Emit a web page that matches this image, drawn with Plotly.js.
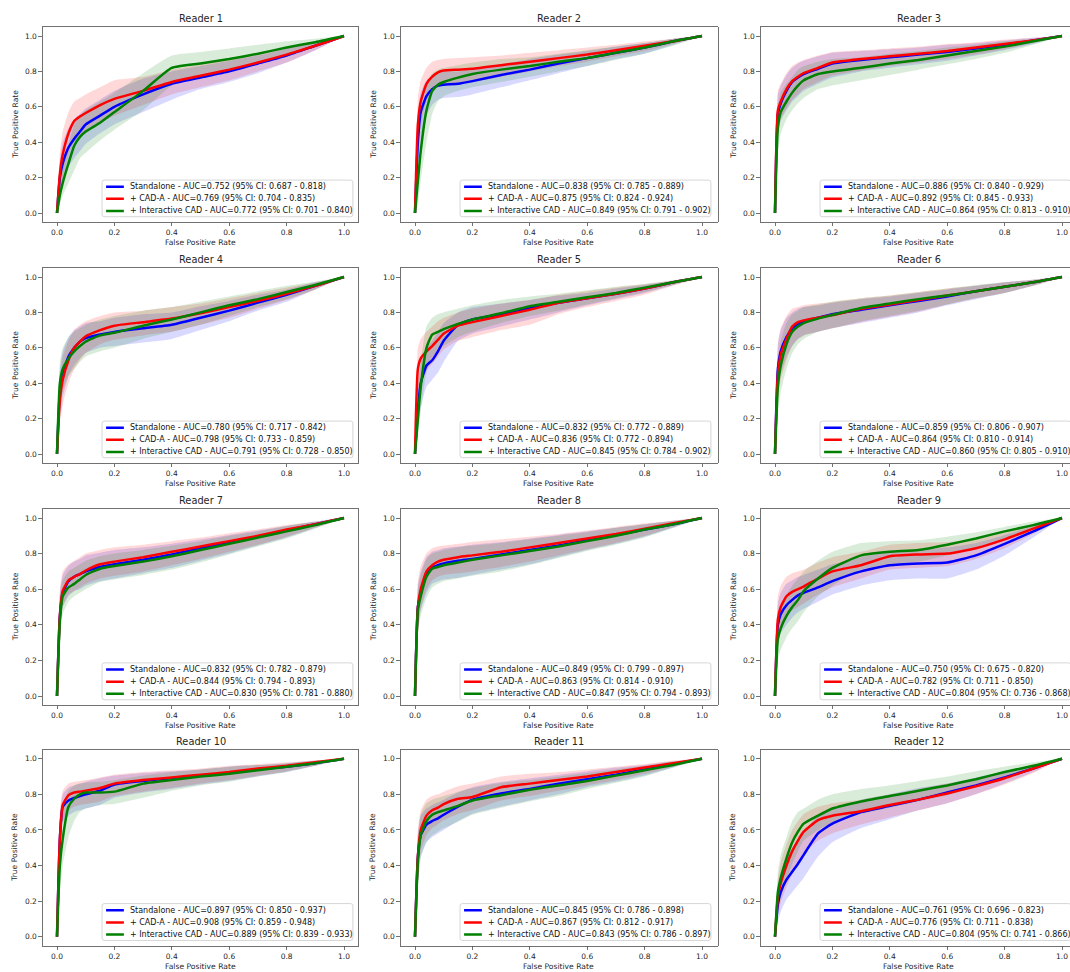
<!DOCTYPE html>
<html>
<head>
<meta charset="utf-8">
<script src="https://cdn.plot.ly/plotly-3.0.1.min.js"></script>
<style>
  html, body { margin: 0; padding: 0; background: #ffffff; }
  #chart { width: 1070px; height: 972px; }
</style>
</head>
<body>
<div id="chart"></div>
<script>
// Shared false-positive-rate grid for every mean ROC curve and its 95% band
const FPR = [0, 0.01, 0.02, 0.04, 0.06, 0.08, 0.1, 0.15, 0.2, 0.3, 0.4, 0.5, 0.6, 0.7, 0.8, 0.9, 1];

const readers = ['Reader 1', 'Reader 2', 'Reader 3', 'Reader 4', 'Reader 5', 'Reader 6',
                 'Reader 7', 'Reader 8', 'Reader 9', 'Reader 10', 'Reader 11', 'Reader 12'];

const seriesNames = ['Standalone', '+ CAD-A', '+ Interactive CAD'];

// AUC and 95% CI per reader
const aucStandalone = [0.752, 0.838, 0.886, 0.780, 0.832, 0.859, 0.832, 0.849, 0.750, 0.897, 0.845, 0.761];
const ciStandalone = [[0.687, 0.818], [0.785, 0.889], [0.840, 0.929], [0.717, 0.842], [0.772, 0.889], [0.806, 0.907],
                      [0.782, 0.879], [0.799, 0.897], [0.675, 0.820], [0.850, 0.937], [0.786, 0.898], [0.696, 0.823]];
const aucCadA = [0.769, 0.875, 0.892, 0.798, 0.836, 0.864, 0.844, 0.863, 0.782, 0.908, 0.867, 0.776];
const ciCadA = [[0.704, 0.835], [0.824, 0.924], [0.845, 0.933], [0.733, 0.859], [0.772, 0.894], [0.810, 0.914],
                [0.794, 0.893], [0.814, 0.910], [0.711, 0.850], [0.859, 0.948], [0.812, 0.917], [0.711, 0.838]];
const aucInteractive = [0.772, 0.849, 0.864, 0.791, 0.845, 0.860, 0.830, 0.847, 0.804, 0.889, 0.843, 0.804];
const ciInteractive = [[0.701, 0.840], [0.791, 0.902], [0.813, 0.910], [0.728, 0.850], [0.784, 0.902], [0.805, 0.910],
                       [0.781, 0.880], [0.794, 0.893], [0.736, 0.868], [0.839, 0.933], [0.786, 0.897], [0.741, 0.866]];

// Standalone: mean TPR, band lower, band upper (one row per reader)
const standaloneTpr = [
  [0, .20, .28, .37, .42, .46, .50, .55, .60, .67, .73, .765, .80, .845, .89, .945, 1],
  [0, .40, .57, .66, .70, .72, .725, .73, .745, .78, .81, .845, .875, .905, .935, .97, 1],
  [0, .56, .62, .69, .74, .765, .785, .815, .845, .865, .88, .895, .91, .93, .95, .975, 1],
  [0, .35, .45, .55, .60, .635, .655, .675, .69, .71, .73, .77, .81, .855, .90, .95, 1],
  [0, .25, .40, .50, .53, .58, .64, .73, .76, .79, .825, .855, .88, .905, .935, .97, 1],
  [0, .48, .58, .66, .71, .735, .75, .77, .79, .815, .84, .865, .89, .92, .945, .97, 1],
  [0, .45, .58, .645, .67, .685, .70, .725, .74, .765, .795, .83, .86, .895, .93, .965, 1],
  [0, .50, .58, .69, .72, .735, .745, .76, .77, .795, .82, .845, .875, .905, .935, .965, 1],
  [0, .40, .46, .51, .54, .565, .58, .61, .645, .70, .735, .745, .75, .79, .855, .925, 1],
  [0, .55, .73, .765, .78, .79, .80, .82, .855, .875, .89, .905, .92, .94, .955, .975, 1],
  [0, .45, .57, .63, .65, .665, .685, .73, .77, .805, .83, .86, .885, .91, .94, .97, 1],
  [0, .18, .25, .32, .365, .41, .46, .58, .635, .70, .735, .77, .81, .85, .895, .945, 1]
];
const standaloneLo = [
  [0, .10, .17, .26, .31, .35, .39, .45, .50, .57, .64, .70, .74, .79, .85, .92, 1],
  [0, .25, .42, .55, .61, .64, .65, .655, .67, .71, .75, .79, .83, .87, .90, .95, 1],
  [0, .45, .52, .58, .63, .66, .69, .73, .765, .80, .82, .84, .86, .89, .92, .955, 1],
  [0, .22, .32, .44, .50, .54, .57, .60, .61, .63, .65, .70, .75, .81, .86, .93, 1],
  [0, .12, .26, .38, .42, .46, .52, .64, .68, .72, .76, .80, .84, .875, .91, .955, 1],
  [0, .35, .45, .55, .61, .65, .67, .69, .71, .74, .77, .80, .84, .875, .91, .95, 1],
  [0, .35, .50, .56, .59, .60, .62, .645, .66, .69, .72, .76, .80, .845, .89, .945, 1],
  [0, .38, .48, .58, .63, .645, .655, .665, .68, .71, .74, .78, .82, .855, .895, .945, 1],
  [0, .28, .35, .40, .44, .47, .49, .53, .57, .62, .65, .66, .66, .71, .79, .89, 1],
  [0, .42, .64, .68, .70, .71, .72, .74, .78, .81, .83, .855, .875, .90, .925, .96, 1],
  [0, .30, .45, .53, .56, .58, .60, .65, .69, .73, .765, .80, .84, .87, .905, .95, 1],
  [0, .08, .14, .21, .25, .29, .33, .45, .53, .61, .66, .71, .75, .80, .86, .925, 1]
];
const standaloneHi = [
  [0, .30, .40, .48, .53, .56, .59, .64, .69, .76, .80, .83, .86, .89, .93, .97, 1],
  [0, .55, .68, .75, .78, .79, .80, .80, .815, .84, .87, .895, .915, .94, .96, .985, 1],
  [0, .67, .72, .78, .82, .845, .86, .885, .905, .915, .925, .935, .95, .96, .975, .99, 1],
  [0, .48, .58, .66, .70, .72, .74, .75, .77, .79, .80, .835, .865, .90, .93, .97, 1],
  [0, .38, .52, .60, .64, .69, .74, .80, .83, .85, .87, .895, .91, .935, .955, .98, 1],
  [0, .62, .70, .77, .80, .82, .83, .84, .855, .875, .89, .91, .93, .95, .97, .985, 1],
  [0, .58, .68, .73, .755, .77, .79, .805, .82, .835, .855, .88, .905, .93, .955, .98, 1],
  [0, .62, .70, .78, .81, .82, .83, .84, .85, .865, .885, .905, .925, .945, .965, .985, 1],
  [0, .52, .58, .63, .65, .67, .68, .71, .74, .78, .81, .82, .835, .86, .905, .955, 1],
  [0, .68, .80, .84, .85, .86, .87, .89, .905, .92, .93, .94, .955, .965, .975, .99, 1],
  [0, .58, .68, .72, .74, .755, .77, .81, .84, .87, .89, .91, .93, .95, .965, .985, 1],
  [0, .28, .36, .45, .50, .55, .59, .68, .72, .77, .80, .835, .86, .895, .93, .965, 1]
];

// + CAD-A
const cadATpr = [
  [0, .22, .33, .45, .52, .545, .565, .61, .645, .69, .74, .775, .81, .85, .895, .945, 1],
  [0, .50, .63, .73, .77, .795, .805, .81, .815, .835, .855, .875, .895, .92, .945, .97, 1],
  [0, .58, .63, .70, .745, .77, .79, .82, .85, .87, .885, .90, .915, .935, .955, .975, 1],
  [0, .30, .42, .53, .60, .635, .665, .70, .725, .745, .765, .795, .83, .865, .905, .95, 1],
  [0, .48, .54, .58, .61, .645, .68, .725, .745, .78, .815, .855, .88, .905, .935, .97, 1],
  [0, .45, .56, .65, .72, .745, .755, .77, .785, .82, .845, .87, .895, .92, .945, .97, 1],
  [0, .45, .59, .65, .67, .685, .705, .74, .755, .78, .81, .84, .87, .90, .935, .965, 1],
  [0, .50, .60, .70, .735, .755, .765, .78, .79, .81, .835, .86, .885, .91, .94, .97, 1],
  [0, .43, .50, .56, .585, .60, .615, .66, .70, .735, .785, .795, .80, .83, .88, .94, 1],
  [0, .55, .74, .795, .81, .815, .82, .835, .86, .88, .895, .91, .925, .945, .96, .98, 1],
  [0, .45, .60, .68, .71, .725, .745, .775, .785, .84, .86, .88, .90, .925, .95, .975, 1],
  [0, .22, .30, .40, .48, .54, .59, .655, .68, .705, .74, .77, .805, .845, .89, .945, 1]
];
const cadALo = [
  [0, .10, .20, .32, .40, .43, .45, .51, .55, .61, .67, .71, .75, .80, .85, .92, 1],
  [0, .35, .50, .63, .68, .71, .72, .73, .74, .77, .80, .83, .855, .885, .915, .955, 1],
  [0, .47, .53, .59, .64, .67, .70, .74, .775, .805, .83, .85, .87, .895, .925, .96, 1],
  [0, .18, .28, .40, .48, .53, .57, .62, .645, .67, .69, .73, .77, .82, .87, .93, 1],
  [0, .30, .40, .47, .51, .55, .59, .64, .66, .70, .73, .79, .83, .865, .90, .95, 1],
  [0, .30, .42, .53, .61, .65, .67, .69, .71, .745, .775, .805, .845, .88, .91, .95, 1],
  [0, .35, .50, .57, .59, .61, .63, .66, .675, .70, .735, .77, .81, .85, .895, .945, 1],
  [0, .38, .49, .60, .65, .67, .68, .69, .70, .725, .755, .79, .825, .86, .90, .95, 1],
  [0, .30, .38, .45, .48, .50, .52, .57, .61, .66, .71, .72, .73, .77, .83, .91, 1],
  [0, .42, .65, .71, .73, .74, .745, .76, .79, .815, .835, .86, .88, .905, .93, .96, 1],
  [0, .32, .48, .57, .61, .63, .655, .69, .71, .765, .79, .82, .85, .88, .915, .955, 1],
  [0, .12, .19, .28, .35, .41, .46, .54, .58, .63, .67, .71, .75, .80, .855, .92, 1]
];
const cadAHi = [
  [0, .34, .46, .57, .63, .65, .67, .71, .75, .77, .81, .84, .87, .90, .93, .97, 1],
  [0, .65, .75, .82, .855, .865, .87, .875, .88, .89, .905, .92, .935, .95, .97, .985, 1],
  [0, .69, .73, .79, .83, .85, .865, .89, .91, .92, .93, .94, .955, .965, .98, .99, 1],
  [0, .42, .55, .64, .70, .73, .75, .78, .80, .81, .83, .85, .88, .91, .94, .97, 1],
  [0, .60, .65, .69, .72, .75, .77, .80, .82, .85, .87, .90, .92, .94, .96, .98, 1],
  [0, .62, .71, .78, .82, .83, .84, .85, .86, .88, .895, .915, .935, .95, .97, .985, 1],
  [0, .60, .70, .74, .76, .78, .80, .82, .835, .85, .87, .89, .915, .935, .96, .98, 1],
  [0, .64, .73, .80, .83, .84, .845, .855, .865, .88, .895, .91, .93, .95, .97, .985, 1],
  [0, .56, .62, .67, .69, .70, .71, .75, .78, .81, .85, .86, .865, .885, .92, .965, 1],
  [0, .70, .82, .86, .87, .875, .88, .895, .91, .925, .935, .945, .96, .97, .98, .99, 1],
  [0, .60, .71, .77, .79, .80, .815, .845, .86, .90, .915, .925, .94, .955, .97, .99, 1],
  [0, .32, .42, .52, .60, .65, .69, .73, .75, .77, .80, .83, .86, .89, .925, .965, 1]
];

// + Interactive CAD
const interTpr = [
  [0, .10, .17, .28, .38, .43, .46, .51, .57, .69, .82, .845, .87, .90, .935, .965, 1],
  [0, .18, .35, .58, .69, .725, .74, .765, .785, .81, .83, .855, .875, .905, .935, .97, 1],
  [0, .48, .57, .63, .68, .72, .75, .785, .80, .82, .845, .865, .89, .915, .94, .97, 1],
  [0, .40, .48, .54, .58, .61, .635, .67, .685, .725, .76, .80, .84, .875, .915, .955, 1],
  [0, .20, .38, .60, .675, .69, .705, .735, .76, .795, .835, .86, .885, .91, .94, .97, 1],
  [0, .38, .50, .62, .69, .72, .74, .765, .785, .825, .85, .875, .895, .92, .945, .97, 1],
  [0, .42, .56, .61, .63, .655, .68, .715, .73, .755, .785, .82, .855, .89, .925, .96, 1],
  [0, .48, .56, .67, .715, .725, .735, .75, .765, .79, .815, .84, .87, .90, .935, .965, 1],
  [0, .32, .38, .45, .50, .54, .59, .66, .72, .79, .81, .82, .85, .885, .925, .96, 1],
  [0, .40, .55, .73, .775, .80, .81, .81, .815, .86, .88, .90, .915, .935, .955, .975, 1],
  [0, .42, .57, .65, .685, .70, .71, .735, .765, .795, .825, .85, .875, .905, .935, .965, 1],
  [0, .25, .33, .44, .53, .59, .635, .68, .72, .76, .79, .82, .85, .885, .925, .96, 1]
];
const interLo = [
  [0, .05, .10, .17, .24, .31, .34, .41, .47, .58, .72, .78, .81, .85, .89, .94, 1],
  [0, .05, .18, .40, .56, .63, .66, .69, .71, .74, .77, .80, .83, .865, .90, .945, 1],
  [0, .35, .45, .53, .58, .62, .65, .70, .72, .75, .78, .81, .84, .87, .905, .95, 1],
  [0, .28, .36, .44, .48, .52, .55, .58, .60, .65, .69, .73, .78, .83, .875, .93, 1],
  [0, .10, .24, .46, .55, .58, .61, .66, .69, .74, .78, .81, .845, .88, .915, .955, 1],
  [0, .22, .35, .48, .57, .62, .65, .69, .71, .75, .78, .81, .845, .88, .91, .95, 1],
  [0, .32, .46, .53, .56, .58, .60, .64, .655, .68, .71, .75, .795, .84, .885, .94, 1],
  [0, .35, .45, .55, .61, .63, .645, .66, .675, .70, .735, .775, .815, .85, .89, .945, 1],
  [0, .20, .26, .33, .38, .42, .47, .56, .62, .71, .74, .755, .79, .835, .885, .94, 1],
  [0, .25, .40, .56, .65, .70, .72, .74, .745, .78, .82, .85, .87, .90, .925, .96, 1],
  [0, .28, .44, .53, .57, .59, .61, .645, .685, .725, .76, .79, .83, .865, .90, .95, 1],
  [0, .15, .22, .32, .41, .48, .54, .60, .64, .69, .725, .76, .795, .84, .89, .945, 1]
];
const interHi = [
  [0, .18, .26, .39, .50, .55, .58, .63, .68, .79, .89, .91, .93, .95, .97, .985, 1],
  [0, .30, .50, .72, .79, .81, .82, .835, .85, .87, .88, .90, .92, .94, .96, .985, 1],
  [0, .60, .68, .73, .77, .81, .83, .855, .87, .88, .90, .915, .935, .95, .97, .985, 1],
  [0, .52, .60, .66, .69, .71, .73, .76, .78, .81, .83, .86, .89, .92, .95, .975, 1],
  [0, .32, .52, .72, .77, .79, .80, .82, .84, .87, .89, .905, .925, .945, .96, .98, 1],
  [0, .52, .64, .74, .79, .81, .83, .845, .86, .88, .895, .915, .935, .955, .97, .985, 1],
  [0, .55, .65, .70, .72, .74, .76, .785, .80, .82, .845, .87, .90, .925, .955, .98, 1],
  [0, .60, .68, .77, .80, .81, .82, .835, .845, .86, .88, .90, .92, .945, .965, .985, 1],
  [0, .44, .50, .57, .62, .66, .70, .76, .81, .86, .87, .875, .895, .92, .95, .98, 1],
  [0, .55, .70, .82, .85, .86, .865, .87, .88, .905, .925, .94, .955, .965, .975, .99, 1],
  [0, .56, .69, .75, .77, .78, .79, .815, .835, .865, .88, .90, .92, .94, .96, .985, 1],
  [0, .36, .46, .56, .65, .70, .72, .77, .80, .83, .85, .875, .90, .93, .955, .98, 1]
];

const seriesColors = ['#0000ff', '#ff0000', '#008000'];
const bandColors = ['rgba(0,0,255,0.15)', 'rgba(255,0,0,0.15)', 'rgba(0,128,0,0.15)'];

const tprSets = [standaloneTpr, cadATpr, interTpr];
const loSets = [standaloneLo, cadALo, interLo];
const hiSets = [standaloneHi, cadAHi, interHi];
const aucSets = [aucStandalone, aucCadA, aucInteractive];
const ciSets = [ciStandalone, ciCadA, ciInteractive];

// Grid geometry in pixels (4 rows x 3 columns)
const W = 1070, H = 972;
const colLeft = [42.65, 400.65, 760.65];
const colRight = [358.35, 717.65, 1070];
const rowTop = [27.15, 268.15, 509.1, 749.8];
const rowBottom = [221.85, 462.85, 704.9, 945.6];
const pxPerUnit = (358.35 - 42.65) / 1.1;

const FONT = 'DejaVu Sans, Liberation Sans, sans-serif';
const TXT = '#262626';
const SPINE = '#4d4d4d';

const data = [];
const layout = {
  width: W, height: H,
  margin: {l: 0, r: 0, t: 0, b: 0},
  paper_bgcolor: '#ffffff',
  plot_bgcolor: '#ffffff',
  showlegend: false,
  font: {family: FONT, size: 8, color: TXT},
  shapes: [],
  annotations: []
};

function roundedBox(x0, x1, y0, y1, rx, ry) {
  return `M ${x0 + rx},${y0} L ${x1 - rx},${y0} Q ${x1},${y0} ${x1},${y0 + ry} ` +
         `L ${x1},${y1 - ry} Q ${x1},${y1} ${x1 - rx},${y1} L ${x0 + rx},${y1} ` +
         `Q ${x0},${y1} ${x0},${y1 - ry} L ${x0},${y0 + ry} Q ${x0},${y0} ${x0 + rx},${y0} Z`;
}

readers.forEach((name, i) => {
  const row = Math.floor(i / 3), col = i % 3;
  const xa = i === 0 ? 'x' : 'x' + (i + 1);
  const ya = i === 0 ? 'y' : 'y' + (i + 1);
  const xKey = i === 0 ? 'xaxis' : 'xaxis' + (i + 1);
  const yKey = i === 0 ? 'yaxis' : 'yaxis' + (i + 1);

  const xUpper = -0.05 + (colRight[col] - colLeft[col]) / pxPerUnit;

  const axisCommon = {
    showgrid: false, zeroline: false,
    showline: true, mirror: true, linecolor: SPINE, linewidth: 0.8,
    ticks: 'outside', ticklen: 3.5, tickwidth: 0.8, tickcolor: SPINE,
    tickfont: {family: FONT, size: 7.5, color: TXT},
    tickmode: 'array',
    tickvals: [0, 0.2, 0.4, 0.6, 0.8, 1.0],
    ticktext: ['0.0', '0.2', '0.4', '0.6', '0.8', '1.0'],
    fixedrange: true
  };
  layout[xKey] = Object.assign({}, axisCommon, {
    anchor: ya,
    domain: [colLeft[col] / W, colRight[col] / W],
    range: [-0.05, xUpper]
  });
  layout[yKey] = Object.assign({}, axisCommon, {
    anchor: xa,
    domain: [1 - rowBottom[row] / H, 1 - rowTop[row] / H],
    range: [-0.05, 1.05]
  });

  // confidence bands first, mean curves on top
  for (let s = 0; s < 3; s++) {
    const hi = hiSets[s][i], lo = loSets[s][i];
    data.push({
      type: 'scatter', mode: 'lines',
      x: FPR.concat(FPR.slice().reverse()),
      y: hi.concat(lo.slice().reverse()),
      fill: 'toself', fillcolor: bandColors[s],
      line: {width: 0, color: bandColors[s], shape: 'spline', smoothing: 0.5},
      hoverinfo: 'skip', showlegend: false,
      xaxis: xa, yaxis: ya
    });
  }
  for (let s = 0; s < 3; s++) {
    data.push({
      type: 'scatter', mode: 'lines',
      x: FPR, y: tprSets[s][i],
      name: seriesNames[s],
      line: {color: seriesColors[s], width: 2.5, shape: 'spline', smoothing: 0.5},
      showlegend: false,
      xaxis: xa, yaxis: ya
    });
  }

  // panel title and axis titles
  layout.annotations.push({
    text: name, xref: xa, yref: ya + ' domain', x: 0.5, y: 1,
    yanchor: 'middle', yshift: 8.5, showarrow: false,
    font: {family: FONT, size: 9.8, color: TXT}
  });
  layout.annotations.push({
    text: 'False Positive Rate', xref: xa, yref: ya + ' domain', x: 0.5, y: 0,
    yanchor: 'middle', yshift: -21, showarrow: false,
    font: {family: FONT, size: 7.6, color: TXT}
  });
  layout.annotations.push({
    text: 'True Positive Rate', xref: xa + ' domain', yref: ya + ' domain', x: 0, y: 0.5,
    xanchor: 'center', yanchor: 'middle', xshift: -27.5, textangle: -90, showarrow: false,
    font: {family: FONT, size: 7.6, color: TXT}
  });

  // legend frame, sample lines and labels
  layout.shapes.push({
    type: 'path', xref: xa, yref: ya, layer: 'above',
    path: roundedBox(0.157, 1.031, -0.021, 0.186, 0.008, 0.013),
    fillcolor: 'rgba(255,255,255,0.8)',
    line: {color: '#cccccc', width: 0.8}
  });
  const rowsY = [0.149, 0.080, 0.012];
  for (let s = 0; s < 3; s++) {
    layout.shapes.push({
      type: 'line', xref: xa, yref: ya, layer: 'above',
      x0: 0.171, x1: 0.233, y0: rowsY[s], y1: rowsY[s],
      line: {color: seriesColors[s], width: 2.5}
    });
    const auc = aucSets[s][i], ci = ciSets[s][i];
    layout.annotations.push({
      text: `${seriesNames[s]} - AUC=${auc.toFixed(3)} (95% CI: ${ci[0].toFixed(3)} - ${ci[1].toFixed(3)})`,
      xref: xa, yref: ya, x: 0.249, y: rowsY[s],
      xanchor: 'left', yanchor: 'middle', showarrow: false,
      font: {family: FONT, size: 8, color: '#111111'}
    });
  }
});

Plotly.newPlot('chart', data, layout, {staticPlot: true, displayModeBar: false});
</script>
</body>
</html>
